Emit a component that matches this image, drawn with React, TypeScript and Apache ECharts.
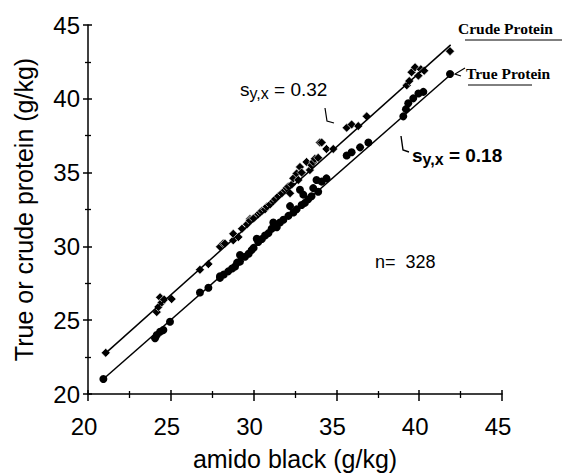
import React, { useEffect, useRef } from "react";
import * as echarts from "echarts";

// Axis ticks (g/kg)
const axisMin = 20;
const axisMax = 45;
const axisStep = 5;

// Crude protein vs amido black
const crudePoints: [number, number][] = [
  [21.07, 22.79], [24.15, 25.55], [24.25, 25.9], [24.35, 26.55], [24.45, 26.2], [24.6, 26.4], [25.05, 26.43],
  [26.76, 28.42], [27.27, 28.8], [27.97, 29.97], [28.17, 30.19], [28.27, 30.19], [28.77, 30.41], [28.77, 30.85],
  [29.08, 30.63], [29.3, 31.2], [29.6, 31.5], [29.78, 31.85], [29.78, 31.74], [30.0, 31.9], [30.28, 32.18],
  [30.39, 32.29], [30.5, 32.4], [30.69, 32.51], [30.8, 32.7], [30.99, 32.84], [31.19, 33.06], [31.3, 33.2],
  [31.49, 33.4], [31.7, 33.6], [31.9, 33.8], [32.0, 33.95], [32.1, 34.06], [32.2, 33.6], [32.3, 34.2],
  [32.4, 34.61], [32.6, 34.94], [32.7, 34.5], [32.8, 35.38], [32.9, 35.0], [33.2, 35.72], [33.4, 35.17],
  [33.5, 35.5], [33.6, 35.72], [33.7, 35.93], [33.9, 36.0], [34.0, 37.04], [34.11, 37.04], [34.4, 36.6],
  [34.81, 36.6], [35.62, 38.04], [35.92, 38.26], [36.32, 38.15], [36.83, 38.81], [39.25, 40.91], [39.4, 41.2],
  [39.54, 41.8], [39.75, 42.13], [39.95, 41.57], [40.1, 42.0], [40.3, 41.9], [41.86, 43.23],
];

// True protein vs amido black
const truePoints: [number, number][] = [
  [20.93, 21.02], [24.05, 23.78], [24.15, 24.0], [24.35, 24.22], [24.55, 24.33], [24.95, 24.89],
  [26.76, 26.88], [27.27, 27.2], [27.97, 27.98], [27.97, 27.87], [28.2, 28.1], [28.47, 28.31], [28.7, 28.5],
  [28.88, 28.64], [29.0, 28.9], [29.18, 28.97], [29.18, 29.42], [29.48, 29.3], [29.7, 29.5], [29.88, 29.75],
  [30.0, 29.9], [30.19, 30.52], [30.28, 30.3], [30.5, 30.5], [30.69, 30.74], [30.9, 30.9], [31.09, 31.19],
  [31.19, 31.62], [31.4, 31.3], [31.59, 31.62], [31.8, 31.8], [32.1, 32.07], [32.2, 32.73], [32.4, 32.3],
  [32.6, 32.51], [32.8, 33.84], [32.9, 32.8], [33.0, 33.51], [33.1, 32.95], [33.3, 33.2], [33.5, 33.4],
  [33.6, 33.95], [33.8, 34.5], [33.9, 33.7], [34.11, 34.39], [34.4, 34.61], [35.62, 36.16], [35.92, 36.38],
  [36.43, 36.71], [36.93, 37.04], [39.04, 38.81], [39.2, 39.3], [39.34, 39.7], [39.64, 40.03], [39.95, 40.36],
  [40.25, 40.47], [41.86, 41.68],
];

// Regression lines (end points)
const crudeLine: [number, number][] = [[21.05, 22.75], [41.9, 43.65]];
const trueLine: [number, number][] = [[20.93, 21.02], [42.06, 41.8]];

const sans = "Liberation Sans, Arial, sans-serif";
const serif = "Liberation Serif, Times New Roman, serif";

export default function App() {
  const ref = useRef<HTMLDivElement>(null);
  useEffect(() => {
    if (!ref.current) return;
    const chart = echarts.init(ref.current, null, { renderer: "svg" });
    const baseAxis = {
      type: "value" as const,
      min: axisMin,
      max: axisMax,
      interval: axisStep,
      splitLine: { show: false },
    };
    chart.setOption({
      animation: false,
      backgroundColor: "#fff",
      grid: { left: 88, right: 63, top: 25, bottom: 74 },
      xAxis: [
        {
          ...baseAxis,
          position: "bottom",
          axisLine: { lineStyle: { color: "#000", width: 1.5 } },
          axisTick: { length: 7, lineStyle: { color: "#000", width: 1.5 } },
          minorTick: { show: true, splitNumber: 2, length: 4, lineStyle: { color: "#000", width: 1.3 } },
          axisLabel: { color: "#000", fontSize: 24, fontFamily: sans, margin: 20, padding: [0, 8, 0, 0] },
          name: "amido black (g/kg)",
          nameLocation: "middle",
          nameGap: 52,
          nameTextStyle: { color: "#000", fontSize: 25, fontFamily: sans },
        },
        {
          ...baseAxis,
          position: "bottom",
          axisLine: { show: false },
          axisTick: { inside: true, length: 4, lineStyle: { color: "#000", width: 1.5 } },
          minorTick: { show: true, splitNumber: 2, length: 3, lineStyle: { color: "#000", width: 1.3 } },
          axisLabel: { show: false },
        },
      ],
      yAxis: [
        {
          ...baseAxis,
          position: "left",
          axisLine: { lineStyle: { color: "#000", width: 1.5 } },
          axisTick: { length: 5, lineStyle: { color: "#000", width: 1.5 } },
          minorTick: { show: true, splitNumber: 2, length: 3, lineStyle: { color: "#000", width: 1.3 } },
          axisLabel: { color: "#000", fontSize: 24, fontFamily: sans, margin: 8 },
          name: "True or crude protein (g/kg)",
          nameLocation: "middle",
          nameGap: 52,
          nameTextStyle: { color: "#000", fontSize: 25, fontFamily: sans },
        },
        {
          ...baseAxis,
          position: "left",
          axisLine: { show: false },
          axisTick: { inside: true, length: 4, lineStyle: { color: "#000", width: 1.5 } },
          minorTick: { show: true, splitNumber: 2, length: 3, lineStyle: { color: "#000", width: 1.3 } },
          axisLabel: { show: false },
        },
      ],
      series: [
        {
          type: "line",
          data: crudeLine,
          showSymbol: false,
          symbol: "none",
          lineStyle: { color: "#000", width: 1.5 },
          silent: true,
        },
        {
          type: "line",
          data: trueLine,
          showSymbol: false,
          symbol: "none",
          lineStyle: { color: "#000", width: 1.5 },
          silent: true,
        },
        {
          type: "scatter",
          data: crudePoints,
          symbol: "diamond",
          symbolSize: 9,
          itemStyle: { color: "#000", borderColor: "#fff", borderWidth: 0.6, opacity: 1 },
        },
        {
          type: "scatter",
          data: truePoints,
          symbol: "circle",
          symbolSize: 8,
          itemStyle: { color: "#000", opacity: 1 },
        },
      ],
      graphic: [
        {
          type: "text",
          left: 458,
          top: 20,
          style: { text: "Crude Protein", font: `bold 15.5px ${serif}`, fill: "#000" },
        },
        { type: "line", shape: { x1: 465, y1: 40, x2: 562, y2: 40 }, style: { stroke: "#000", lineWidth: 1 } },
        {
          type: "text",
          left: 466,
          top: 65,
          style: { text: "True Protein", font: `bold 15.5px ${serif}`, fill: "#000" },
        },
        { type: "line", shape: { x1: 468, y1: 85, x2: 532, y2: 85 }, style: { stroke: "#000", lineWidth: 1 } },
        {
          type: "polyline",
          shape: { points: [[465, 68], [455, 74], [461, 76]] },
          style: { stroke: "#000", lineWidth: 1.2, fill: "none" },
        },
        {
          type: "text",
          left: 240,
          top: 80,
          style: {
            text: "s{sub|y,x} = 0.32",
            font: `19px ${sans}`,
            fill: "#000",
            rich: { sub: { fontSize: 16, fontFamily: sans, padding: [8, 0, 0, 0] } },
          },
        },
        {
          type: "polyline",
          shape: { points: [[325, 108], [327, 121], [334, 123]] },
          style: { stroke: "#000", lineWidth: 1.2, fill: "none" },
        },
        {
          type: "text",
          left: 412,
          top: 146,
          style: {
            text: "s{sub|y,x} = 0.18",
            font: `bold 19px ${sans}`,
            fill: "#000",
            rich: { sub: { fontSize: 16, fontWeight: "bold", fontFamily: sans, padding: [8, 0, 0, 0] } },
          },
        },
        {
          type: "polyline",
          shape: { points: [[401, 136], [403, 150], [409, 152]] },
          style: { stroke: "#000", lineWidth: 1.4, fill: "none" },
        },
        {
          type: "text",
          left: 375,
          top: 253,
          style: { text: "n=  328", font: `18px ${sans}`, fill: "#000" },
        },
      ],
    });
    return () => chart.dispose();
  }, []);
  return <div ref={ref} style={{ width: 565, height: 476, position: "absolute", left: 0, top: 0 }} />;
}
